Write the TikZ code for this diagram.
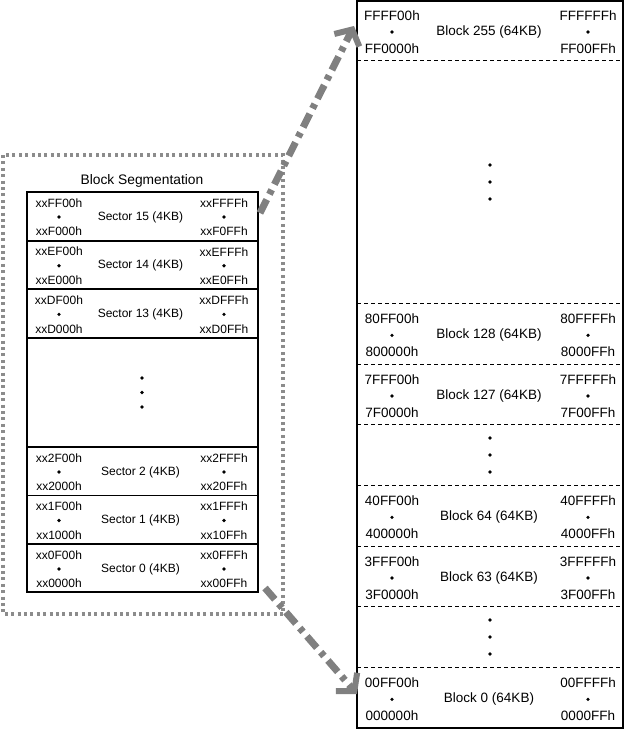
\documentclass[tikz,border=0pt]{standalone}
\usepackage{fontspec}
\setmainfont{Liberation Sans}
\usetikzlibrary{arrows.meta}

\begin{document}
\begin{tikzpicture}[
    x=1pt, y=-1pt,
    saddr/.style={inner sep=0pt, font=\fontsize{12}{12}\selectfont},
    baddr/.style={inner sep=0pt, font=\fontsize{13.5}{13.5}\selectfont},
    dot/.style={circle, fill=black, inner sep=0pt, minimum size=3.6pt},
    solidsep/.style={draw, line width=1.8pt},
    dashsep/.style={draw, line width=0.9pt, dash pattern=on 4pt off 3pt},
    frame/.style={draw, line width=2pt},
    group/.style={draw, gray!90, line width=3.2pt, dash pattern=on 3pt off 3.4pt},
    jump/.style={draw, gray, line width=7pt, dash pattern=on 15pt off 6pt on 5pt off 6pt,
        -{Straight Barb[length=12pt, width=28pt, line width=6pt]}},
]
    \useasboundingbox (0,0) rectangle (638,731);
    % Block segmentation (left)
    \draw[group] (3,155) rectangle (283,614);
    \node[inner sep=0pt, font=\fontsize{13.8}{14}\selectfont] (segtitle) at (142,181) {Block Segmentation};
    \foreach \t/\hl/\ll/\hr/\lr/\n in {
        192/xxFF00h/xxF000h/xxFFFFh/xxF0FFh/15,
        240.7/xxEF00h/xxE000h/xxEFFFh/xxE0FFh/14,
        289.3/xxDF00h/xxD000h/xxDFFFh/xxD0FFh/13,
        447/xx2F00h/xx2000h/xx2FFFh/xx20FFh/2,
        495.5/xx1F00h/xx1000h/xx1FFFh/xx10FFh/1,
        544/xx0F00h/xx0000h/xx0FFFh/xx00FFh/0} {
        \node[saddr] (s\n-hl) at (59,\t+11) {\hl};
        \node[dot] (s\n-dl) at (59,\t+25) {};
        \node[saddr] (s\n-ll) at (59,\t+39.5) {\ll};
        \node[saddr] (s\n-hr) at (224,\t+11) {\hr};
        \node[dot] (s\n-dr) at (224,\t+25) {};
        \node[saddr] (s\n-lr) at (224,\t+39.5) {\lr};
        \node[saddr] (s\n) at (140.5,\t+25) {Sector \n\ (4KB)};
    }
    \foreach \y in {240.7, 289.3, 338, 447, 495.5, 544} {
        \draw[solidsep] (27,\y) -- (258,\y);
    }
    \foreach \y [count=\i] in {378, 392.5, 407} {
        \node[dot] (sgap\i) at (142,\y) {};
    }
    \draw[frame] (27,192) rectangle (258,592);
    % Memory blocks (right)
    \foreach \t/\hl/\ll/\hr/\lr/\n in {
        0/FFFF00h/FF0000h/FFFFFFh/FF00FFh/255,
        303.3/80FF00h/800000h/80FFFFh/8000FFh/128,
        364/7FFF00h/7F0000h/7FFFFFh/7F00FFh/127,
        485.3/40FF00h/400000h/40FFFFh/4000FFh/64,
        546/3FFF00h/3F0000h/3FFFFFh/3F00FFh/63,
        667.3/00FF00h/000000h/00FFFFh/0000FFh/0} {
        \node[baddr] (b\n-hl) at (392,\t+15.5) {\hl};
        \node[dot] (b\n-dl) at (392,\t+32) {};
        \node[baddr] (b\n-ll) at (392,\t+48.5) {\ll};
        \node[baddr] (b\n-hr) at (588,\t+15.5) {\hr};
        \node[dot] (b\n-dr) at (588,\t+32) {};
        \node[baddr] (b\n-lr) at (588,\t+48.5) {\lr};
        \node[baddr] (b\n) at (489,\t+32) {Block \n\ (64KB)};
    }
    \foreach \y in {60.7, 303.3, 364, 424.7, 485.3, 546, 606.7, 667.3} {
        \draw[dashsep] (357,\y) -- (623,\y);
    }
    \foreach \c [count=\j] in {182, 455, 637} {
        \node[dot] (bgap\j a) at (490,\c-17) {};
        \node[dot] (bgap\j b) at (490,\c) {};
        \node[dot] (bgap\j c) at (490,\c+17) {};
    }
    \draw[frame] (357,1) rectangle (623,728);
    % Arrows
    \coordinate (upfrom) at (260,213);
    \coordinate (upto) at (354,26);
    \coordinate (downfrom) at (265,588);
    \coordinate (downto) at (357,694);
    \draw[jump] (upfrom) -- (upto);
    \draw[jump] (downfrom) -- (downto);
\end{tikzpicture}
\end{document}
